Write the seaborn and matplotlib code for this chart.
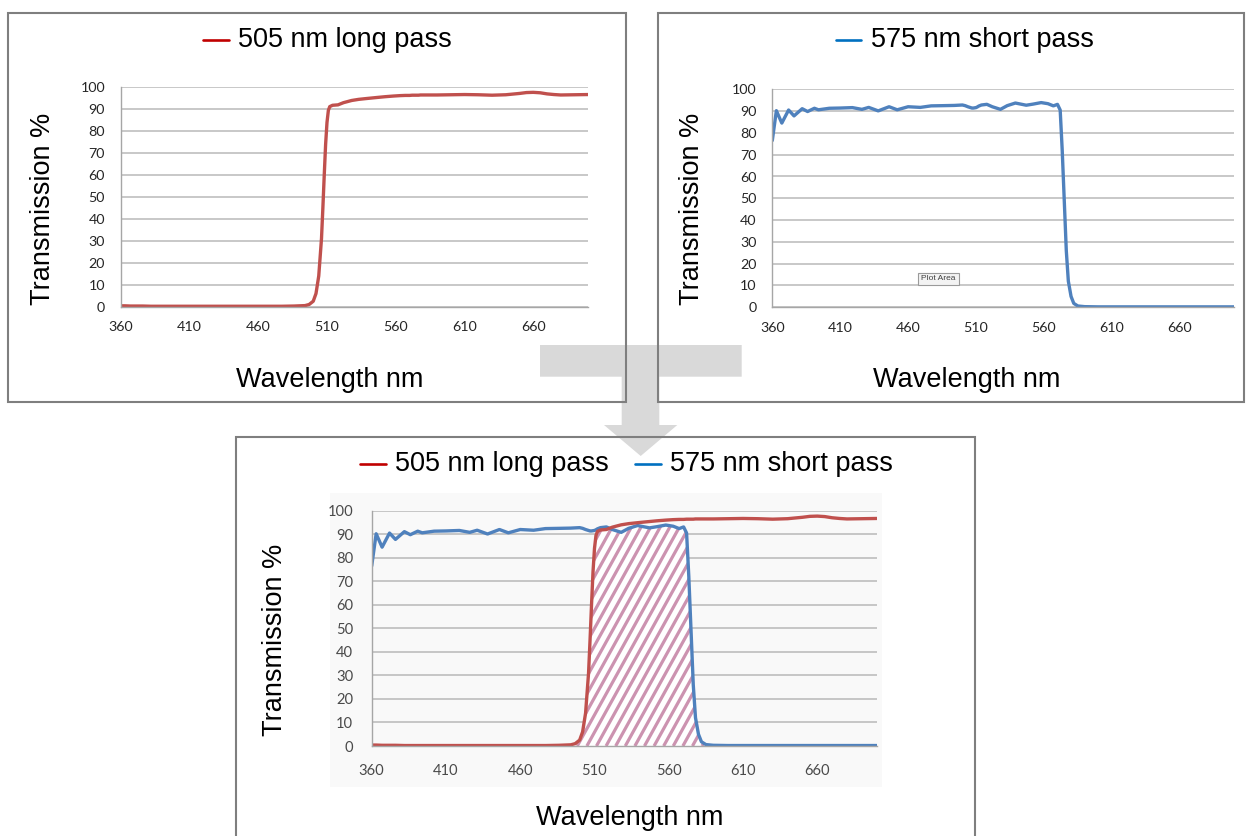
import numpy as np
import pandas as pd
import seaborn as sns
import matplotlib
matplotlib.use("Agg")
import matplotlib.pyplot as plt
from matplotlib.patches import Rectangle, Polygon, PathPatch
from matplotlib.lines import Line2D
from matplotlib.collections import LineCollection

# ---------------- data ----------------
wavelength = [360, 363, 367, 372, 376, 382, 386, 391, 394, 402, 410, 419, 426, 431,
              438, 446, 452, 460, 469, 477, 486, 494, 497, 500, 502, 504, 506, 507,
              508, 509, 510, 511, 512, 514, 518, 522, 528, 533, 539, 547, 552, 558,
              563, 567, 570, 572, 573.5, 575, 576.5, 578, 580, 582, 585, 590, 600,
              610, 620, 630, 640, 650, 655, 660, 665, 670, 675, 680, 690, 700]
long_pass = [0.4, 0.4, 0.3, 0.3, 0.3, 0.2, 0.2, 0.2, 0.2, 0.2, 0.2, 0.2, 0.2, 0.2,
             0.2, 0.2, 0.2, 0.2, 0.2, 0.2, 0.3, 0.5, 1.0, 2.5, 6.0, 14, 31, 45,
             60, 74, 84, 89.5, 91.2, 91.8, 92.0, 93.0, 94.0, 94.5, 94.9, 95.4, 95.7, 96.0,
             96.2, 96.3, 96.3, 96.4, 96.4, 96.4, 96.4, 96.5, 96.5, 96.5, 96.5, 96.5, 96.6,
             96.7, 96.6, 96.4, 96.6, 97.2, 97.6, 97.7, 97.5, 97.0, 96.7, 96.5, 96.6, 96.7]
short_pass = [76.5, 90.2, 84.5, 90.5, 87.8, 91.1, 89.8, 91.3, 90.6, 91.3, 91.4, 91.6, 90.8, 91.7,
              90.1, 92.0, 90.6, 92.0, 91.7, 92.4, 92.5, 92.6, 92.7, 92.8, 92.5, 92.0, 91.6, 91.4,
              91.4, 91.5, 91.6, 91.9, 92.3, 92.8, 93.1, 92.0, 90.8, 92.5, 93.7, 92.7, 93.2, 93.9,
              93.4, 92.4, 93.1, 90.5, 72, 49, 26, 12, 5, 1.8, 0.6, 0.3, 0.2,
              0.2, 0.2, 0.2, 0.2, 0.2, 0.2, 0.2, 0.2, 0.2, 0.2, 0.2, 0.2, 0.2]
x_ticks = [360, 410, 460, 510, 560, 610, 660]
y_ticks = [0, 10, 20, 30, 40, 50, 60, 70, 80, 90, 100]
name_long = "505 nm long pass"
name_short = "575 nm short pass"
x_title = "Wavelength nm"
y_title = "Transmission %"

df = pd.DataFrame({"wl": wavelength, "long": long_pass, "short": short_pass})

# ---------------- style ----------------
sns.set_theme(style="white")
plt.rcParams["font.family"] = ["Liberation Sans", "DejaVu Sans"]

W, H = 1249, 836
fig = plt.figure(figsize=(W / 100, H / 100), dpi=100)
fig.patch.set_facecolor("white")

def fx(x):
    return x / W

def fy(y):
    return 1 - y / H

RED = "#c0504d"
BLUE = "#4f81bd"
GRID = "#b9b9b9"
AXC = "#a6a6a6"

def make_axes(l, r, t, b, tick_fs, tick_col, xpad, ypad):
    ax = fig.add_axes([fx(l), fy(b), (r - l) / W, (b - t) / H])
    ax.set_zorder(2)
    ax.set_facecolor("none")
    ax.set_xlim(360, 700)
    ax.set_ylim(0, 100)
    ax.set_xticks(x_ticks)
    ax.set_yticks(y_ticks)
    ax.set_xticklabels([str(v) for v in x_ticks], family=["Lato", "DejaVu Sans"],
                       fontsize=tick_fs, color=tick_col)
    ax.set_yticklabels([str(v) for v in y_ticks], family=["Lato", "DejaVu Sans"],
                       fontsize=tick_fs, color=tick_col)
    ax.grid(axis="y", color=GRID, linewidth=1.1)
    ax.set_axisbelow(True)
    for s in ["top", "right"]:
        ax.spines[s].set_visible(False)
    for s in ["left", "bottom"]:
        ax.spines[s].set_color(AXC)
        ax.spines[s].set_linewidth(1.0)
    ax.tick_params(axis="x", direction="out", length=3.8, width=1, color=AXC, pad=xpad)
    ax.tick_params(axis="y", direction="out", length=4.3, width=1, color=AXC, pad=ypad)
    return ax

# ---------------- background decorations ----------------
fig.patches.append(Rectangle((fx(330), fy(787)), 552 / W, 294 / H, transform=fig.transFigure,
                             facecolor="#f9f9f9", edgecolor="none", zorder=0.5))

arrow_pts = [(540, 345), (741.7, 345), (741.7, 376.7), (659.3, 376.7), (659.3, 425),
             (677.3, 425), (640.7, 456), (604, 425), (621.7, 425), (621.7, 376.7),
             (540, 376.7)]
fig.patches.append(Polygon([(fx(x), fy(y)) for x, y in arrow_pts], closed=True,
                           transform=fig.transFigure, facecolor="#d9d9d9",
                           edgecolor="none", zorder=1))

for (x0, y0, x1, y1) in [(8, 13, 626, 402), (658, 13, 1244, 402), (236, 437, 975, 842)]:
    fig.patches.append(Rectangle((fx(x0), fy(y1)), (x1 - x0) / W, (y1 - y0) / H,
                                 transform=fig.transFigure, fill=False,
                                 edgecolor="#7f7f7f", linewidth=1.5, zorder=3))

# ---------------- panel 1 ----------------
ax1 = make_axes(120.7, 588.3, 87.3, 306.7, 10.3, "#262626", 6.5, 7)
sns.lineplot(data=df, x="wl", y="long", ax=ax1, color=RED, linewidth=2.4)
ax1.set_xlabel("")
ax1.set_ylabel("")

# ---------------- panel 2 ----------------
ax2 = make_axes(772.3, 1234, 89.3, 307.3, 10.3, "#262626", 6.5, 7)
sns.lineplot(data=df, x="wl", y="short", ax=ax2, color=BLUE, linewidth=2.4)
ax2.set_xlabel("")
ax2.set_ylabel("")

# ---------------- panel 3 ----------------
ax3 = make_axes(371.7, 876.7, 510.7, 746, 10.6, "#4a4a4a", 9, 9)
lo = np.minimum(df["long"].values, df["short"].values)
band = ax3.fill_between(df["wl"], 0, lo, where=lo > 0.6, interpolate=True,
                        facecolor="white", edgecolor="none", linewidth=0, zorder=1.4)
clip = PathPatch(band.get_paths()[0], transform=ax3.transData,
                 facecolor="none", edgecolor="none")
ax3.add_patch(clip)
# steep diagonal stripes (hatch), clipped to the overlap band
ax_w, ax_h = 876.7 - 371.7, 746 - 510.7
shift = (ax_h / np.tan(np.radians(61))) / ax_w
step = 9.6 / ax_w
starts = np.arange(-shift - step, 1 + step, step)
stripes = LineCollection([[(s, 0), (s + shift, 1)] for s in starts], transform=ax3.transAxes,
                         colors="#cc93b0", linewidths=2.3, zorder=1.5)
stripes.set_clip_path(clip)
ax3.add_collection(stripes)
sns.lineplot(data=df, x="wl", y="short", ax=ax3, color=BLUE, linewidth=2.4)
sns.lineplot(data=df, x="wl", y="long", ax=ax3, color=RED, linewidth=2.4)
ax3.set_xlim(360, 700)
ax3.set_ylim(0, 100)
ax3.set_xlabel("")
ax3.set_ylabel("")

# ---------------- texts ----------------
TFS = 19.5

def legend_entry(x_line0, x_line1, y_line, x_text, y_base, color, label):
    fig.add_artist(Line2D([fx(x_line0), fx(x_line1)], [fy(y_line), fy(y_line)],
                          transform=fig.transFigure, color=color, linewidth=1.9, zorder=4))
    fig.text(fx(x_text), fy(y_base), label, fontsize=TFS, ha="left", va="baseline",
             color="black", zorder=4)

legend_entry(203, 229, 40, 238, 46.7, "#c00000", name_long)
legend_entry(836, 861, 40, 871, 46.7, "#0070c0", name_short)
legend_entry(360, 386, 464, 395, 470.7, "#c00000", name_long)
legend_entry(635, 661, 464, 670, 470.7, "#0070c0", name_short)

for cx, yb in [(330, 386.7), (967, 386.7), (629.5, 825)]:
    fig.text(fx(cx), fy(yb), x_title, fontsize=TFS, ha="center", va="baseline", color="black")

for cx, cy in [(43, 209), (692, 209), (275, 640)]:
    fig.text(fx(cx), fy(cy), y_title, fontsize=TFS, rotation=90, ha="center", va="center",
             color="black")

# small "Plot Area" tooltip captured in panel 2
fig.text(fx(938.5), fy(279), "Plot Area", fontsize=6, ha="center", va="center", color="#404040",
         bbox=dict(boxstyle="square,pad=0.35", facecolor="#f3f3f3", edgecolor="#9a9a9a",
                   linewidth=0.8), zorder=5)

fig.savefig("out.png", dpi=100)
